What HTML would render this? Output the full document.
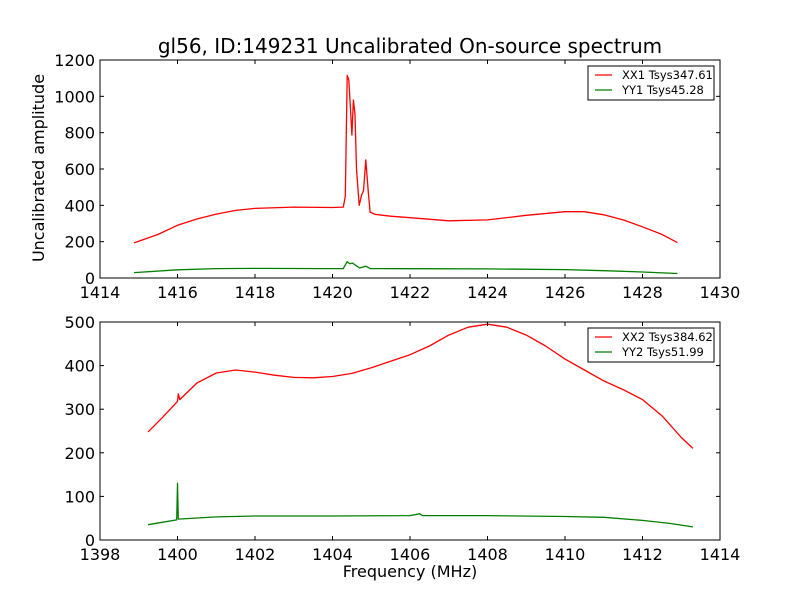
<!DOCTYPE html>
<html><head><meta charset="utf-8"><style>
body{margin:0;background:#fff;}
svg{display:block;font-family:"DejaVu Sans","Liberation Sans",sans-serif;}
</style></head><body>
<svg id="c" width="800" height="600" viewBox="0 0 800 600">
<rect width="800" height="600" fill="#fff"/>
<text x="410" y="53" font-size="20" text-anchor="middle">gl56, ID:149231 Uncalibrated On-source spectrum</text>
<text x="44" y="168" font-size="16" text-anchor="middle" transform="rotate(-90 44 168)">Uncalibrated amplitude</text>
<text x="410" y="577" font-size="16" text-anchor="middle">Frequency (MHz)</text>
</svg>
<script>
const topXTicks=[1414,1416,1418,1420,1422,1424,1426,1428,1430];
const topYTicks=[0,200,400,600,800,1000,1200];
const botXTicks=[1398,1400,1402,1404,1406,1408,1410,1412,1414];
const botYTicks=[0,100,200,300,400,500];
const xx1F=[1414.88,1415.5,1416,1416.5,1417,1417.5,1418,1419,1420,1420.28,1420.33,1420.38,1420.42,1420.46,1420.5,1420.54,1420.58,1420.62,1420.69,1420.75,1420.8,1420.86,1420.92,1420.97,1421.1,1421.5,1422,1423,1424,1425,1426,1426.5,1427,1427.5,1428,1428.5,1428.9];
const xx1V=[193,240,290,325,352,372,383,390,388,390,450,1115,1090,950,787,980,900,600,400,457,480,650,480,363,350,340,332,315,320,345,365,365,348,320,282,240,195];
const yy1F=[1414.88,1416,1417,1418,1420,1420.28,1420.38,1420.45,1420.52,1420.6,1420.7,1420.86,1420.97,1422,1424,1426,1427,1428,1428.9];
const yy1V=[30,45,52,53,52,52,90,78,82,70,55,65,52,51,50,46,40,33,25];
const xx2F=[1399.24,1399.6,1400,1400.02,1400.06,1400.5,1401,1401.5,1402,1402.5,1403,1403.5,1404,1404.5,1405,1405.5,1406,1406.5,1407,1407.5,1408,1408.5,1409,1409.5,1410,1410.5,1411,1411.5,1412,1412.5,1413,1413.3];
const xx2V=[248,280,318,335,322,360,383,390,385,378,373,372,375,382,395,410,425,445,470,488,495,488,470,445,415,390,365,345,322,285,235,210];
const yy2F=[1399.24,1399.7,1399.98,1400,1400.02,1401,1402,1404,1406,1406.25,1406.32,1408,1410,1411,1412,1412.7,1413.3];
const yy2V=[35,42,46,130,48,53,55,55,56,60,56,56,54,52,45,38,30];
const NS='http://www.w3.org/2000/svg';
const svg=document.getElementById('c');
function mk(t,a){const e=document.createElementNS(NS,t);for(const k in a)e.setAttribute(k,a[k]);svg.appendChild(e);return e;}
function panel(id,top,xT,yT,series,leg){
  const L=100,R=720,B=top+218,x0=xT[0],x1=xT[xT.length-1],y0=yT[0],y1=yT[yT.length-1];
  const sx=v=>L+(v-x0)/(x1-x0)*(R-L), sy=v=>B-(v-y0)/(y1-y0)*(B-top);
  series.forEach(s=>{
    const p=mk('polyline',{points:s.f.map((f,i)=>sx(f).toFixed(1)+','+sy(s.v[i]).toFixed(1)).join(' '),fill:'none',stroke:s.c,'stroke-width':1.3,'stroke-linejoin':'round'});
    
    
  });
  const fr=mk('rect',{x:L,y:top,width:R-L,height:B-top,fill:'none',stroke:'#000','stroke-width':1});
  
  
  xT.forEach(t=>{const x=sx(t);
    mk('line',{x1:x,x2:x,y1:B,y2:B-4,stroke:'#000'});mk('line',{x1:x,x2:x,y1:top,y2:top+4,stroke:'#000'});
    const tx=mk('text',{x:x,y:B+20,'font-size':16,'text-anchor':'middle'});tx.textContent=t;
    
    });
  yT.forEach(t=>{const y=sy(t);
    mk('line',{x1:L,x2:L+4,y1:y,y2:y,stroke:'#000'});mk('line',{x1:R,x2:R-4,y1:y,y2:y,stroke:'#000'});
    const tx=mk('text',{x:L-5,y:y+6,'font-size':16,'text-anchor':'end'});tx.textContent=t;
    
    });
  const lr=mk('rect',{x:588,y:top+6,width:126,height:34,fill:'#fff',stroke:'#000'});
  
  
  leg.forEach((l,i)=>{const y=top+15+i*15;
    mk('line',{x1:595,x2:612,y1:y,y2:y,stroke:series[i].c,'stroke-width':1.3});
    const tx=mk('text',{x:622,y:y+4,'font-size':11.5});tx.textContent=l;
    
    });
}
panel('top',60,topXTicks,topYTicks,[{f:xx1F,v:xx1V,c:'#ff0000',name:'xx1-line'},{f:yy1F,v:yy1V,c:'#008000',name:'yy1-line'}],['XX1 Tsys347.61','YY1 Tsys45.28']);
panel('bottom',322,botXTicks,botYTicks,[{f:xx2F,v:xx2V,c:'#ff0000',name:'xx2-line'},{f:yy2F,v:yy2V,c:'#008000',name:'yy2-line'}],['XX2 Tsys384.62','YY2 Tsys51.99']);
</script>
</body></html>
